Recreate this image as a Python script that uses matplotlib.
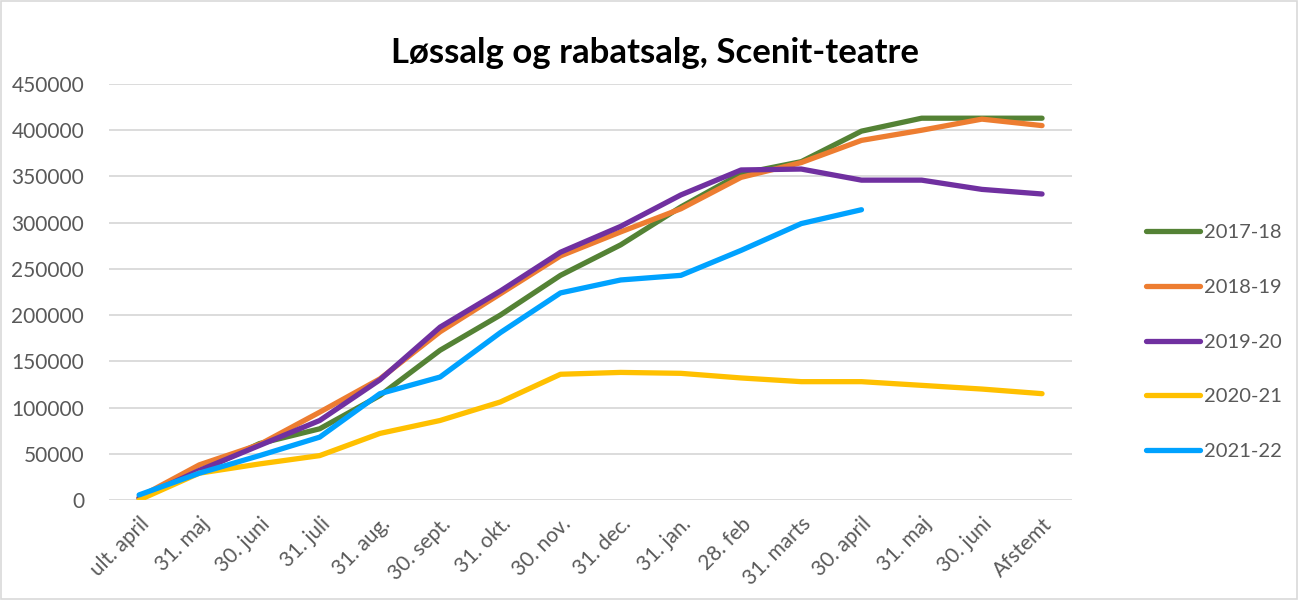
import numpy as np
import matplotlib.pyplot as plt
from matplotlib.patches import Rectangle

plt.rcParams['font.family'] = ['Lato', 'DejaVu Sans']

# Kategorier på x-aksen
maaneder = ['ult. april', '31. maj', '30. juni', '31. juli', '31. aug.', '30. sept.',
            '31. okt.', '30. nov.', '31. dec.', '31. jan.', '28. feb', '31. marts',
            '30. april', '31. maj', '30. juni', 'Afstemt']

saeson_2017_18 = [2000, 31000, 61000, 77000, 113000, 162000, 200000, 243000,
                  276000, 317000, 353000, 366000, 399000, 413000, 413000, 413000]
saeson_2018_19 = [3000, 38000, 60000, 95000, 131000, 182000, 223000, 264000,
                  290000, 315000, 349000, 365000, 389000, 400000, 412000, 405000]
saeson_2019_20 = [2000, 32000, 59000, 86000, 130000, 187000, 226000, 268000,
                  296000, 330000, 357000, 358000, 346000, 346000, 336000, 331000]
saeson_2020_21 = [0, 29000, 39000, 48000, 72000, 86000, 106000, 136000,
                  138000, 137000, 132000, 128000, 128000, 124000, 120000, 115000]
saeson_2021_22 = [5500, 29000, 48000, 68000, 115000, 133000, 181000, 224000,
                  238000, 243000, 270000, 299000, 314000, None, None, None]

serier = ['2017-18', '2018-19', '2019-20', '2020-21', '2021-22']
farver = ['#548235', '#ED7D31', '#7030A0', '#FFC000', '#00A2FF']
data = [saeson_2017_18, saeson_2018_19, saeson_2019_20, saeson_2020_21, saeson_2021_22]

fig = plt.figure(figsize=(12.98, 6.0), dpi=100)
ax = fig.add_axes([0.084, 0.1667, 0.742, 0.6933])

x = np.arange(len(maaneder))
for navn, farve, vaerdier in zip(serier, farver, data):
    y = np.array([np.nan if v is None else v for v in vaerdier], dtype=float)
    ax.plot(x, y, color=farve, linewidth=3.8, solid_capstyle='round',
            solid_joinstyle='round', label=navn)

ax.set_xlim(-0.5, len(maaneder) - 0.5)
ax.set_ylim(0, 450000)
ax.set_yticks(np.arange(0, 450001, 50000))
ax.set_yticklabels([str(v) for v in range(0, 450001, 50000)])
ax.set_xticks(x)
ax.set_xticklabels(maaneder, rotation=45, ha='right', rotation_mode='anchor')

ax.grid(axis='y', color='#D9D9D9', linewidth=1.3)
ax.set_axisbelow(True)
for s in ['top', 'right', 'left', 'bottom']:
    ax.spines[s].set_visible(False)
ax.tick_params(axis='both', length=0, labelsize=15, colors='#595959')
ax.tick_params(axis='y', pad=18)
ax.tick_params(axis='x', pad=10)

fig.text(0.505, 0.912, 'Løssalg og rabatsalg, Scenit-teatre', ha='center', va='center',
         fontsize=25, fontweight='bold', color='black')

leg = fig.legend(loc='center left', bbox_to_anchor=(0.869, 0.43), frameon=False,
                 fontsize=14.5, handlelength=2.7, labelspacing=1.87, handletextpad=0.2)
for t in leg.get_texts():
    t.set_color('#595959')

fig.patches.append(Rectangle((0.001, 0.001), 0.998, 0.998, transform=fig.transFigure,
                             fill=False, edgecolor='#D9D9D9', linewidth=1.2))

fig.savefig('out.png', dpi=100)
